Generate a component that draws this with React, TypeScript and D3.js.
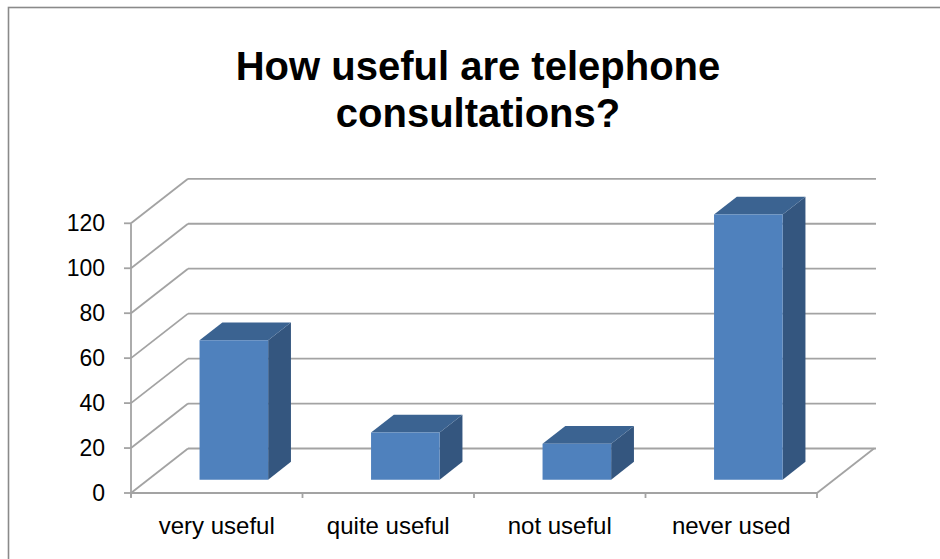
import React from "react";
import * as d3 from "d3";

const categories = ["very useful", "quite useful", "not useful", "never used"];
const values = [62, 21, 16, 118];
const yTicks = [0, 20, 40, 60, 80, 100, 120];
const titleLines = ["How useful are telephone", "consultations?"];

const W = 940;
const H = 559;
const FONT = "'Liberation Sans', Arial, sans-serif";

export default function App() {
  const x = d3.scaleBand<string>().domain(categories).range([131, 817]).padding(0);
  const y = d3.scaleLinear().domain([0, 120]).range([493, 223.3]);
  const dx = 57;
  const dy = -44.5;
  const zFront = 0.3;
  const zBack = 0.7;
  const barFrac = 0.4;
  const x0 = 131;
  const x1 = 817;

  const P = (px: number, py: number, z: number): [number, number] => [px + z * dx, py + z * dy];
  const poly = (pts: [number, number][]) => pts.map((p) => p.join(",")).join(" ");

  const grid = "#a3a3a3";
  const bw = x.bandwidth() * barFrac;

  return (
    <svg width={W} height={H} style={{ position: "absolute", left: 0, top: 0, background: "#fff" }}>
      <rect x={8.5} y={7.5} width={W + 20} height={H + 20} fill="#fff" stroke="#8a8a8a" strokeWidth={1.6} />
      {titleLines.map((t, i) => (
        <text key={i} x={478} y={80 + i * 47} textAnchor="middle" fontFamily={FONT} fontWeight="bold" fontSize={40} fill="#000">
          {t}
        </text>
      ))}
      {yTicks.map((t) => {
        const yf = y(t);
        const [bx, by] = P(x0, yf, 1);
        return (
          <g key={t}>
            <line x1={x0} y1={yf} x2={bx} y2={by} stroke={grid} strokeWidth={1.8} />
            <line x1={bx} y1={by} x2={x1 + dx + 2} y2={by} stroke={grid} strokeWidth={1.8} />
            <line x1={x0 - 7} y1={yf} x2={x0} y2={yf} stroke={grid} strokeWidth={1.8} />
            <text x={105} y={yf + 8} textAnchor="end" fontFamily={FONT} fontSize={23} fill="#000">
              {t}
            </text>
          </g>
        );
      })}
      <line x1={x0} y1={y(120)} x2={x0} y2={y(0) + 4} stroke={grid} strokeWidth={1.8} />
      <line x1={x0} y1={y(0)} x2={x1} y2={y(0)} stroke={grid} strokeWidth={1.8} />
      <line x1={x1} y1={y(0)} x2={x1 + dx} y2={y(0) + dy} stroke={grid} strokeWidth={1.8} />
      {categories.map((c) => (
        <line key={c} x1={x(c)!} y1={y(0)} x2={x(c)!} y2={y(0) + 5} stroke={grid} strokeWidth={1.8} />
      ))}
      <line x1={x1} y1={y(0)} x2={x1} y2={y(0) + 5} stroke={grid} strokeWidth={1.8} />
      {categories.map((c, i) => {
        const cx = (x(c) as number) + x.bandwidth() / 2;
        const left = cx - bw / 2;
        const right = cx + bw / 2;
        const yb = y(0);
        const yt = y(values[i]);
        const fbl = P(left, yb, zFront);
        const fbr = P(right, yb, zFront);
        const ftl = P(left, yt, zFront);
        const ftr = P(right, yt, zFront);
        const btl = P(left, yt, zBack);
        const btr = P(right, yt, zBack);
        const bbr = P(right, yb, zBack);
        return (
          <g key={c}>
            <polygon points={poly([fbr, ftr, btr, bbr])} fill="#34567f" />
            <polygon points={poly([ftl, ftr, btr, btl])} fill="#3b6391" />
            <polygon points={poly([fbl, fbr, ftr, ftl])} fill="#4f81bd" />
          </g>
        );
      })}
      {categories.map((c) => (
        <text key={c} x={(x(c) as number) + x.bandwidth() / 2} y={534} textAnchor="middle" fontFamily={FONT} fontSize={24} fill="#000">
          {c}
        </text>
      ))}
    </svg>
  );
}
